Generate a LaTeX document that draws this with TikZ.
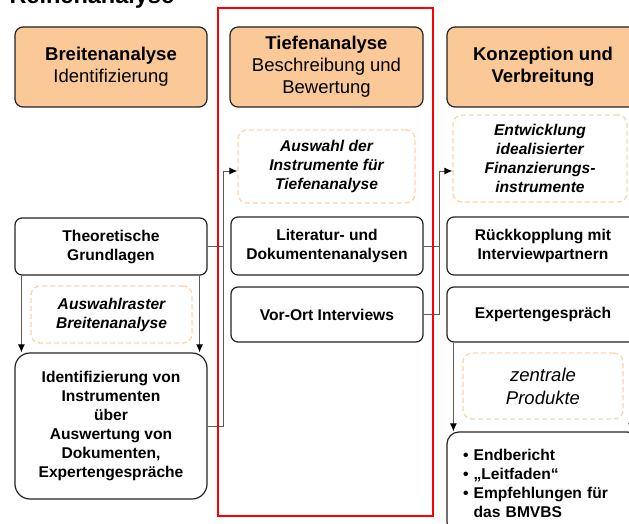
\documentclass[tikz,border=0pt]{standalone}
\usepackage{fontspec}
\setmainfont{Liberation Sans}
\usetikzlibrary{arrows.meta}
\definecolor{headfill}{RGB}{251,201,152}
\definecolor{dashorange}{RGB}{252,212,170}
\definecolor{linegray}{RGB}{90,90,90}
\definecolor{boxline}{RGB}{35,35,35}

\begin{document}
\begin{tikzpicture}[x=1pt,y=-1pt,
    headbox/.style={draw=boxline,line width=1.2pt,fill=headfill,rounded corners=8pt,minimum width=192pt,minimum height=80pt,align=center,inner sep=0pt,font=\fontsize{18.5}{21.8}\selectfont},
    stepbox/.style={draw=boxline,line width=1.2pt,rounded corners=7pt,minimum width=192pt,align=center,inner sep=0pt,font=\bfseries\fontsize{15.6}{19}\selectfont},
    dashbox/.style={draw=dashorange,line width=1.3pt,dash pattern=on 5pt off 3pt,rounded corners=9pt,align=center,inner sep=0pt,font=\bfseries\itshape\fontsize{15.6}{19}\selectfont},
    conn/.style={draw=linegray,line width=1pt},
    arr/.style={conn,-{Latex[length=8pt,width=7pt,color=black]}}]
                \useasboundingbox (0,0) rectangle (629,524);
                \clip (0,0) rectangle (629,524);
                \node[anchor=base west,font=\bfseries\fontsize{23.5}{28}\selectfont] (titel) at (6,4) {Reihenanalyse};
                \node[headbox] (breite) at (111,67) {\textbf{Breitenanalyse}\\Identifizierung};
                \node[headbox,minimum width=193pt] (tiefe) at (326.5,67) {\textbf{Tiefenanalyse}\\Beschreibung und\\Bewertung};
                \node[headbox,font=\bfseries\fontsize{18.5}{22.5}\selectfont] (konz) at (543,67) {Konzeption und\\Verbreitung};
                \node[stepbox,minimum height=57pt] (theo) at (111,246.5) {Theoretische\\Grundlagen};
                \node[dashbox,minimum width=161pt,minimum height=57pt] (raster) at (111.5,314.5) {Auswahlraster\\Breitenanalyse};
                \node[stepbox,minimum height=146pt,rounded corners=15pt] (ident) at (111,426) {Identifizierung von\\Instrumenten\\über\\Auswertung von\\Dokumenten,\\Expertengespräche};
                \node[dashbox,minimum width=177pt,minimum height=73pt] (auswahl) at (326.5,166.5) {Auswahl der\\Instrumente für\\Tiefenanalyse};
                \node[stepbox,minimum height=58pt] (litdok) at (327,246) {Literatur- und\\Dokumentenanalysen};
                \node[stepbox,minimum height=55pt] (vorort) at (327,314.5) {Vor-Ort Interviews};
                \node[dashbox,minimum width=174pt,minimum height=87pt] (entw) at (540,158.5) {Entwicklung\\idealisierter\\Finanzierungs-\\instrumente};
                \node[stepbox,minimum height=58pt] (rueck) at (543,246) {Rückkopplung mit\\Interviewpartnern};
                \node[stepbox,minimum height=55pt] (expert) at (543,314.5) {Expertengespräch};
                \node[dashbox,minimum width=160pt,minimum height=66pt,font=\itshape\fontsize{18.5}{23}\selectfont] (zentral) at (543,386) {zentrale\\Produkte};
                \node[stepbox,minimum height=102pt,rounded corners=12pt,align=left,text width=160pt] (endb) at (543,483) {\textbullet~Endbericht\\\textbullet~„Leitfaden“\\\textbullet~Empfehlungen für\\\phantom{\textbullet~}das BMVBS};
                \coordinate (jl) at (223,0);
                \coordinate (jr) at (439,0);
                \coordinate (ain) at ([yshift=-4.5pt]auswahl.west);
                \coordinate (ein) at ([yshift=-12.5pt]entw.west);
                \draw[conn] (theo.east) -- (theo.east -| jl);
                \draw[arr] (ident.east) -| (jl |- ain) -- (ain);
                \draw[conn] (litdok.east) -- (litdok.east -| jr);
                \draw[arr] (vorort.east) -| (jr |- ein) -- (ein);
                \draw[arr] ([xshift=7pt]theo.south west) -- ([xshift=7pt]theo.south west |- ident.north);
                \draw[arr] ([xshift=-8pt]theo.south east) -- ([xshift=-8pt]theo.south east |- ident.north);
                \draw[arr] ([xshift=7pt]expert.south west) -- ([xshift=7pt]expert.south west |- endb.north);
                \draw[arr] ([xshift=-8pt]expert.south east) -- ([xshift=-8pt]expert.south east |- endb.north);
                \draw[red,line width=2pt] (218,8) rectangle (433,516);
            \end{tikzpicture}
\end{document}
